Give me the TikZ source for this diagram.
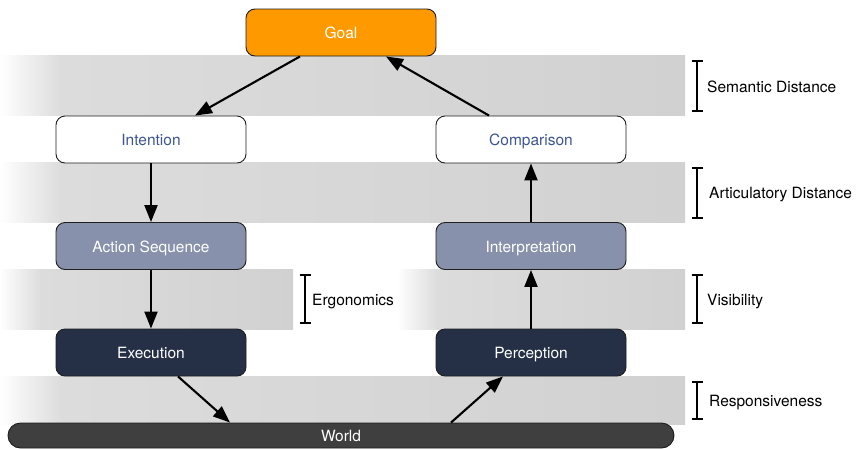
\documentclass[tikz,border=0pt]{standalone}
\usepackage{fontspec}
\setmainfont{TeX Gyre Heros}
\usetikzlibrary{arrows.meta,calc}

\definecolor{goalorange}{HTML}{FF9900}
\definecolor{linktext}{HTML}{3D5592}
\definecolor{midblue}{HTML}{8791AB}
\definecolor{darkblue}{HTML}{253047}
\definecolor{worldgray}{HTML}{3F3F3F}
\definecolor{bandA}{HTML}{DCDCDC}
\definecolor{bandB}{HTML}{D1D1D1}
\definecolor{edgecol}{HTML}{1E1E1E}

% the path's box spans 25bp..75bp of the shading
\pgfdeclarehorizontalshading{band}{100bp}{color(0bp)=(white); color(25bp)=(white); color(29.5bp)=(bandA); color(75bp)=(bandB); color(100bp)=(bandB)}
\pgfdeclarehorizontalshading{bandshort}{100bp}{color(0bp)=(white); color(25bp)=(white); color(32bp)=(bandA); color(75bp)=(bandB); color(100bp)=(bandB)}

\tikzset{
  txt/.style={text height=13.5pt, text depth=1pt, font=\fontsize{15.5}{18}\selectfont},
  stage/.style={txt, draw=edgecol, line width=0.9pt, rounded corners=9pt,
    minimum width=190pt, minimum height=47pt, inner sep=0pt},
  lightstage/.style={stage, fill=white, text=linktext},
  midstage/.style={stage, fill=midblue, text=white},
  darkstage/.style={stage, fill=darkblue, text=white},
  flow/.style={line width=2.1pt, -{Triangle[length=17pt,width=13pt]}},
  gap/.style={line width=1.6pt, {Bar[width=11pt]}-{Bar[width=11pt]}},
  gaplabel/.style={txt, anchor=west, inner sep=0pt},
}

\begin{document}
\begin{tikzpicture}[x=1pt,y=-1pt]
  \useasboundingbox (0,0) rectangle (857,448);

  % grey bands between the stages
  \shade[shading=band] (0,55) rectangle (685,115);
  \shade[shading=band] (0,162) rectangle (685,222);
  \shade[shading=bandshort] (0,269) rectangle (293,329);
  \shade[shading=bandshort] (397,269) rectangle (685,329);
  \shade[shading=band] (0,376) rectangle (685,424);

  % stages
  \node[stage, fill=goalorange, text=white] (goal) at (341,32.5) {Goal};
  \node[lightstage] (intention) at (151,139.5) {Intention};
  \node[lightstage] (comparison) at (531,139.5) {Comparison};
  \node[midstage] (action) at (151,246) {Action Sequence};
  \node[midstage] (interp) at (531,246) {Interpretation};
  \node[darkstage] (exec) at (151,352.5) {Execution};
  \node[darkstage] (percep) at (531,352.5) {Perception};
  \node[txt, draw=edgecol, line width=0.9pt, fill=worldgray, text=white,
        rounded corners=12.5pt, minimum width=666pt, minimum height=25pt,
        inner sep=0pt] (world) at (341,435.5) {World};

  % execution side
  \draw[flow] ($(goal.south)+(-41,0)$) -- ($(intention.north)+(44,0)$);
  \draw[flow] (intention.south) -- (action.north);
  \draw[flow] (action.south) -- (exec.north);
  \draw[flow] ($(exec.south)+(27,0)$) -- ($(world.north)+(-111,0)$);

  % evaluation side
  \draw[flow] ($(world.north)+(110,0)$) -- ($(percep.south)+(-28,0)$);
  \draw[flow] (percep.north) -- (interp.south);
  \draw[flow] (interp.north) -- (comparison.south);
  \draw[flow] ($(comparison.north)+(-42,0)$) -- ($(goal.south)+(45,0)$);

  % gulf markers
  \coordinate (semA) at (697,60);  \coordinate (semB) at (697,112);
  \coordinate (artA) at (697,167); \coordinate (artB) at (697,219);
  \coordinate (ergA) at (305,274); \coordinate (ergB) at (305,324);
  \coordinate (visA) at (697,274); \coordinate (visB) at (697,324);
  \coordinate (resA) at (697,381); \coordinate (resB) at (697,420);

  \draw[gap] (semA) -- (semB);
  \draw[gap] (artA) -- (artB);
  \draw[gap] (ergA) -- (ergB);
  \draw[gap] (visA) -- (visB);
  \draw[gap] (resA) -- (resB);

  \node[gaplabel] (semL) at (707,86) {Semantic Distance};
  \node[gaplabel] (artL) at (709,192) {Articulatory Distance};
  \node[gaplabel] (ergL) at (312,299) {Ergonomics};
  \node[gaplabel] (visL) at (707,299) {Visibility};
  \node[gaplabel] (resL) at (709,400) {Responsiveness};
\end{tikzpicture}
\end{document}
